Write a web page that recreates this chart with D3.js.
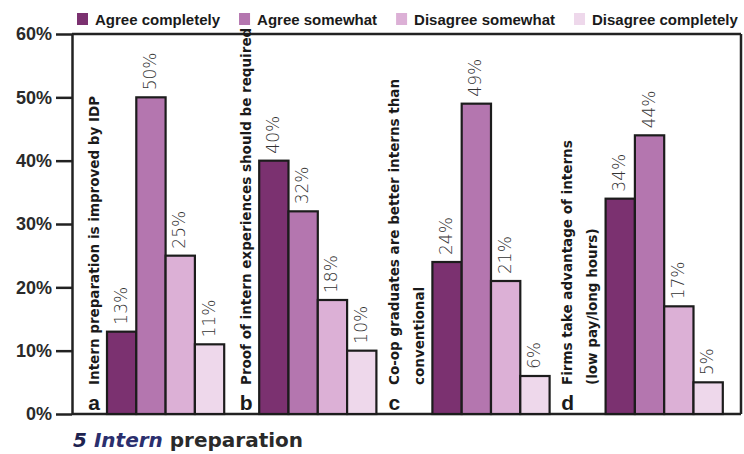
<!DOCTYPE html>
<html>
<head>
<meta charset="utf-8">
<script src="https://cdn.jsdelivr.net/npm/d3@7"></script>
<style>
  html, body { margin: 0; padding: 0; background: #fff; }
  svg { display: block; }
</style>
</head>
<body>
<svg id="chart" width="744" height="454"></svg>
<script>
// ---- data ----
const categories = ["a", "b", "c", "d"];
const categoryLabels = [
  ["Intern preparation is improved by IDP"],
  ["Proof of intern experiences should be required"],
  ["Co-op graduates are better interns than", "conventional"],
  ["Firms take advantage of interns", "(low pay/long hours)"]
];
const seriesNames = ["Agree completely", "Agree somewhat", "Disagree somewhat", "Disagree completely"];
const agreeCompletely    = [13, 40, 24, 34];
const agreeSomewhat      = [50, 32, 49, 44];
const disagreeSomewhat   = [25, 18, 21, 17];
const disagreeCompletely = [11, 10, 6, 5];
const yTicks = [0, 10, 20, 30, 40, 50, 60];
const titleNumber = "5";
const titleItalic = "Intern";
const titleRest = "preparation";

const seriesValues = [agreeCompletely, agreeSomewhat, disagreeSomewhat, disagreeCompletely];
const colors = ["#7b3170", "#b476af", "#dcb0d6", "#eed8eb"];

// ---- layout ----
const svg = d3.select("#chart");
const axisX = 72, rightX = 741;
const y = d3.scaleLinear().domain([0, 60]).range([414, 34]);

const barW = 29.3;
const barsWidth = barW * 4;
const x = d3.scaleBand().domain(seriesNames).range([0, barsWidth]).padding(0);

// group positions derived from label line counts
let cursor = axisX;
const groups = categories.map((c, i) => {
  const lines = categoryLabels[i].length;
  const labelW = lines === 1 ? 35 : 56;
  const left = cursor;
  const barStart = left + labelW;
  cursor = barStart + barsWidth;
  const lineX = lines === 1 ? [left + 22] : [left + 18, left + 43];
  return { c, i, left, barStart, lineX };
});

const boldFont = "'Liberation Sans', Arial, sans-serif";
const wideBold = "'DejaVu Sans', sans-serif";

// frame lines
const frame = svg.append("g").attr("stroke", "#222").attr("stroke-width", 2.5).attr("fill", "none");
frame.append("line").attr("x1", axisX).attr("x2", rightX).attr("y1", y(60)).attr("y2", y(60));
frame.append("line").attr("x1", axisX).attr("x2", rightX).attr("y1", y(0)).attr("y2", y(0));
frame.append("line").attr("x1", rightX).attr("x2", rightX).attr("y1", y(60)).attr("y2", y(0));

// y axis
const yAxis = svg.append("g")
  .attr("transform", `translate(${axisX},0)`)
  .call(d3.axisLeft(y).tickValues(yTicks).tickFormat(d => d + "%").tickSize(16).tickSizeOuter(0).tickPadding(4));
yAxis.select(".domain").attr("stroke", "#222").attr("stroke-width", 2.5);
yAxis.selectAll(".tick line").attr("stroke", "#222").attr("stroke-width", 2.5);
yAxis.selectAll(".tick text")
  .attr("fill", "#2a2a2a")
  .style("font-family", boldFont)
  .style("font-weight", "bold")
  .style("font-size", "18px");

// bars
groups.forEach(g => {
  const gg = svg.append("g").attr("transform", `translate(${g.barStart},0)`);
  seriesNames.forEach((s, si) => {
    const v = seriesValues[si][g.i];
    gg.append("rect")
      .attr("x", x(s))
      .attr("y", y(v))
      .attr("width", x.bandwidth())
      .attr("height", y(0) - y(v))
      .attr("fill", colors[si])
      .attr("stroke", "#1c1c1c")
      .attr("stroke-width", 2.2);
    gg.append("text")
      .attr("transform", `translate(${x(s) + x.bandwidth() / 2 - 1},${y(v) - 7}) rotate(-90)`)
      .attr("dy", "0.35em")
      .attr("text-anchor", "start")
      .attr("fill", "#333")
      .style("font-family", "'DejaVu Sans', sans-serif")
      .style("font-weight", "200")
      .style("font-size", "17px")
      .text(v + "%");
  });

  // category labels
  categoryLabels[g.i].forEach((line, li) => {
    svg.append("text")
      .attr("transform", `translate(${g.lineX[li]},385) rotate(-90)`)
      .attr("dy", "0.35em")
      .attr("text-anchor", "start")
      .attr("fill", "#1a1a1a")
      .style("font-family", wideBold)
      .style("font-weight", "bold")
      .style("font-size", "13.5px")
      .text(line);
  });
  svg.append("text")
    .attr("x", g.lineX[0])
    .attr("y", 410)
    .attr("text-anchor", "middle")
    .attr("fill", "#1a1a1a")
    .style("font-family", boldFont)
    .style("font-weight", "bold")
    .style("font-size", "21px")
    .text(g.c);
});

// legend
const legend = svg.append("g");
let lx = 77;
seriesNames.forEach((s, si) => {
  legend.append("rect")
    .attr("x", lx).attr("y", 13).attr("width", 11).attr("height", 12)
    .attr("fill", colors[si]);
  const t = legend.append("text")
    .attr("x", lx + 18).attr("y", 25)
    .attr("fill", "#1a1a1a")
    .style("font-family", boldFont)
    .style("font-weight", "bold")
    .style("font-size", "15px")
    .text(s);
  lx = lx + 18 + t.node().getComputedTextLength() + 19;
});

// title
const title = svg.append("text")
  .attr("x", 73).attr("y", 447)
  .style("font-family", wideBold)
  .style("font-weight", "bold")
  .style("font-size", "20px");
title.append("tspan").attr("fill", "#1d2350").style("font-style", "italic").text(titleNumber + " ");
title.append("tspan").attr("fill", "#2b2f6e").style("font-style", "italic").text(titleItalic);
title.append("tspan").attr("fill", "#2a2a2a").text(" " + titleRest);
</script>
</body>
</html>
